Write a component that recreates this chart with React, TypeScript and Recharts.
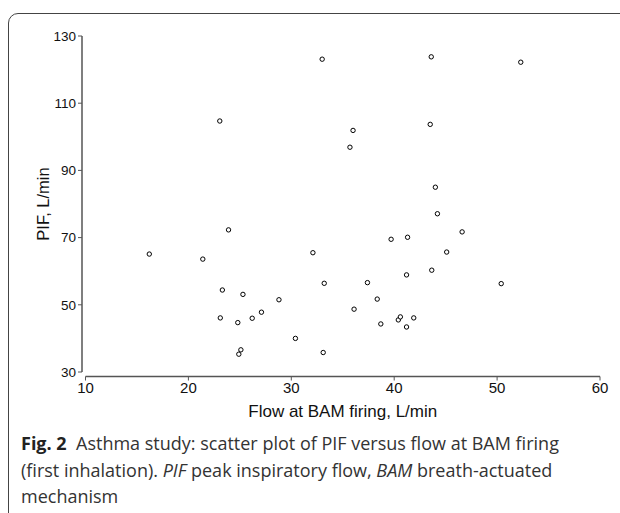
import { ScatterChart, Scatter, XAxis, YAxis } from 'recharts';

// Flow at BAM firing (L/min) and PIF (L/min), first inhalation
const flowAtFiring = [
  16.2, 21.4, 23.05, 23.9, 23.3, 23.1, 24.8, 25.3, 25.1, 24.9,
  26.2, 27.1, 28.8, 30.4, 32.1, 33.0, 33.2, 33.1, 35.7, 36.0,
  36.1, 37.4, 38.35, 38.7, 39.7, 40.4, 40.6, 41.2, 41.2, 41.3,
  41.9, 43.5, 43.6, 43.65, 44.0, 44.2, 45.1, 46.6, 50.4, 52.3,
];
const peakInspFlow = [
  65.1, 63.6, 104.7, 72.3, 54.4, 46.1, 44.7, 53.1, 36.6, 35.3,
  46.0, 47.8, 51.5, 40.0, 65.5, 123.1, 56.4, 35.8, 96.9, 101.9,
  48.7, 56.6, 51.7, 44.3, 69.5, 45.5, 46.4, 43.4, 58.9, 70.1,
  46.1, 103.7, 123.8, 60.3, 85.0, 77.1, 65.7, 71.7, 56.3, 122.2,
];
const xTicks = [10, 20, 30, 40, 50, 60];
const yTicks = [30, 50, 70, 90, 110, 130];

const points = flowAtFiring.map((flow, i) => ({ flow, pif: peakInspFlow[i] }));

const axisFont = 'Liberation Sans, Arial, sans-serif';
const captionFont = '"Open Sans", "Noto Sans", sans-serif';

const Ring = (props: any) => {
  const { cx, cy } = props;
  return <circle cx={cx} cy={cy} r={2.2} fill="#fff" stroke="#000" strokeWidth={1} />;
};

export default function App() {
  return (
    <div style={{ position: 'absolute', left: 0, top: 0, width: 620, height: 513, overflow: 'hidden', background: '#fff' }}>
      <style>{'body{margin:0}'}</style>

      {/* figure frame */}
      <div
        style={{
          position: 'absolute',
          left: 8,
          top: 13,
          width: 700,
          height: 600,
          border: '1.5px solid #444',
          borderRadius: 10,
          boxSizing: 'border-box',
        }}
      />

      <div style={{ position: 'absolute', left: 0, top: 0 }}>
        <ScatterChart width={620} height={513} margin={{ top: 36, right: 20, left: 25.5, bottom: 111 }}>
          <XAxis
            type="number"
            dataKey="flow"
            domain={[10, 60]}
            ticks={xTicks}
            height={30}
            tickSize={4}
            tickMargin={6}
            axisLine={{ stroke: '#555', strokeWidth: 1.5, transform: 'translate(0,4.5)' }}
            tickLine={{ stroke: '#555', strokeWidth: 1, transform: 'translate(0,4.5)' }}
            tick={{ fill: '#111', fontSize: 15, fontFamily: axisFont }}
            label={{
              value: 'Flow at BAM firing, L/min',
              position: 'bottom',
              offset: 3,
              style: { fill: '#111', fontSize: 17, fontFamily: axisFont },
            }}
          />
          <YAxis
            type="number"
            dataKey="pif"
            domain={[30, 130]}
            ticks={yTicks}
            width={60}
            tickSize={4}
            tickMargin={5.5}
            axisLine={{ stroke: '#555', strokeWidth: 1.5, transform: 'translate(-3.5,0)' }}
            tickLine={{ stroke: '#555', strokeWidth: 1, transform: 'translate(-3.5,0)' }}
            tick={{ fill: '#111', fontSize: 13.5, fontFamily: axisFont }}
            label={{
              value: 'PIF, L/min',
              angle: -90,
              position: 'insideLeft',
              offset: 18,
              style: { textAnchor: 'middle', fill: '#111', fontSize: 16.5, fontFamily: axisFont },
            }}
          />
          <Scatter data={points} shape={Ring} isAnimationActive={false} />
        </ScatterChart>
      </div>

      {/* caption */}
      <div
        style={{
          position: 'absolute',
          left: 21,
          top: 430,
          fontFamily: captionFont,
          fontSize: 18,
          lineHeight: '26.5px',
          color: '#333',
          whiteSpace: 'nowrap',
        }}
      >
        <div>
          <b style={{ color: '#222' }}>Fig. 2</b>&nbsp; Asthma study: scatter plot of PIF versus flow at BAM firing
        </div>
        <div>
          (first inhalation). <i>PIF</i> peak inspiratory flow, <i>BAM</i> breath-actuated
        </div>
        <div>mechanism</div>
      </div>
    </div>
  );
}
